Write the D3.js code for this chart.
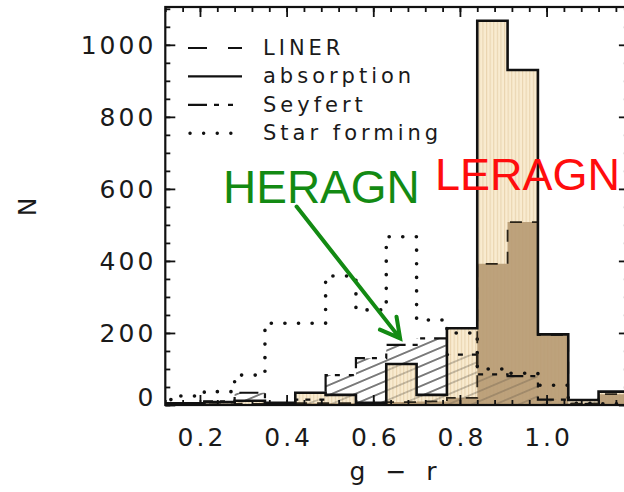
<!DOCTYPE html>
<html>
<head>
<meta charset="utf-8">
<script src="https://cdn.jsdelivr.net/npm/d3@7"></script>
<style>
  html, body { margin: 0; padding: 0; background: #fff; }
  svg { display: block; }
  .tick text { font-family: "DejaVu Sans", sans-serif; }
</style>
</head>
<body>
<svg id="chart" width="624" height="492"></svg>
<script>
// g - r colour histograms of the four spectral classes (bin width 0.07)
const binEdges    = [0.07, 0.14, 0.21, 0.28, 0.35, 0.42, 0.49, 0.56, 0.63, 0.70, 0.77, 0.84, 0.91, 0.98, 1.05, 1.12, 1.19];
const absorption  = [5, 5, 8, 12, 6, 34, 28, 6, 114, 28, 213, 1067, 930, 196, 14, 37];
const liner       = [0, 0, 2, 3, 2, 5, 5, 5, 8, 10, 20, 392, 508, 194, 4, 30];
const seyfert     = [0, 3, 10, 34, 5, 15, 83, 130, 167, 185, 140, 85, 80, 15, 3, 0];
const starForming = [15, 25, 37, 83, 227, 227, 358, 264, 467, 236, 200, 100, 88, 55, 5, 3];

const xTicks = [0.2, 0.4, 0.6, 0.8, 1.0];
const xTickLabels = ["0.2", "0.4", "0.6", "0.8", "1.0"];
const yTicks = [0, 200, 400, 600, 800, 1000];
const yTickLabels = ["0", "200", "400", "600", "800", "1000"];

const legendNames = ["LINER", "absorption", "Seyfert", "Star forming"];
const legendDash  = ["19,21", null, "19,7,5,9,5,9", "0.1,13.5"];

const svg = d3.select("#chart");
const plot = { left: 165.3, right: 628.9, top: 7, bottom: 405 };

const x = d3.scaleLinear().domain([0.12, 1.19]).range([plot.left, plot.right]);
const y = d3.scaleLinear().domain([0, 1105]).range([plot.bottom, plot.top]);

const defs = svg.append("defs");
defs.append("clipPath").attr("id", "plotClip")
  .append("rect")
  .attr("x", plot.left).attr("y", plot.top)
  .attr("width", plot.right - plot.left).attr("height", plot.bottom - plot.top);

// pale tan fill with fine vertical rules for the absorption class
const tan = defs.append("pattern").attr("id", "tanRule")
  .attr("patternUnits", "userSpaceOnUse").attr("width", 3.6).attr("height", 10);
tan.append("rect").attr("width", 3.6).attr("height", 10).attr("fill", "#f8e8c8");
tan.append("line").attr("x1", 0.6).attr("x2", 0.6).attr("y1", 0).attr("y2", 10)
  .attr("stroke", "#e3c99d").attr("stroke-width", 1);

// diagonal hatching for the Seyfert class
const hatch = defs.append("pattern").attr("id", "hatch")
  .attr("patternUnits", "userSpaceOnUse").attr("width", 12).attr("height", 9.2)
  .attr("patternTransform", "rotate(-23)");
hatch.append("line").attr("x1", 0).attr("x2", 12).attr("y1", 4.6).attr("y2", 4.6)
  .attr("stroke", "#2a2a2a").attr("stroke-width", 1);

function stepLine(vals) {
  let d = `M${x(binEdges[0])},${y(vals[0])}`;
  vals.forEach((v, i) => {
    if (i > 0) d += `V${y(v)}`;
    d += `H${x(binEdges[i + 1])}`;
  });
  return d;
}
function stepArea(vals) {
  let d = `M${x(binEdges[0])},${y(0)}`;
  vals.forEach((v, i) => { d += `V${y(v)}H${x(binEdges[i + 1])}`; });
  return d + `V${y(0)}Z`;
}

const g = svg.append("g").attr("clip-path", "url(#plotClip)");

// fills
g.append("path").attr("d", stepArea(seyfert)).attr("fill", "url(#hatch)");
g.append("path").attr("d", stepArea(absorption)).attr("fill", "url(#tanRule)").attr("opacity", 0.85);
g.append("path").attr("d", stepArea(liner)).attr("fill", "#b79b74").attr("opacity", 0.92);
g.append("path").attr("d", stepArea(seyfert)).attr("fill", "url(#hatch)").attr("opacity", 0.35);

// outlines
g.append("path").attr("d", stepLine(starForming)).attr("fill", "none")
  .attr("stroke", "#111").attr("stroke-width", 3.6).attr("stroke-linecap", "round")
  .attr("stroke-dasharray", "0.1,13.5");
g.append("path").attr("d", stepLine(seyfert)).attr("fill", "none")
  .attr("stroke", "#111").attr("stroke-width", 2.2).attr("stroke-dasharray", "19,7,5,9,5,9");
g.append("path").attr("d", stepLine(liner)).attr("fill", "none")
  .attr("stroke", "#2b2418").attr("stroke-width", 1.8).attr("stroke-dasharray", "12,10");
g.append("path").attr("d", stepLine(absorption)).attr("fill", "none")
  .attr("stroke", "#111").attr("stroke-width", 2.6).attr("stroke-linejoin", "miter");

// axes with inward ticks on all four sides
const xMinor = d3.range(0.12, 1.19, 0.04);
const yMinor = d3.range(0, 1105, 50);
const tickFont = { size: 25, ls: 3 };

function styleAxis(sel) {
  sel.select(".domain").remove();
  sel.selectAll(".tick line").attr("stroke", "#111").attr("stroke-width", 1.8);
}

svg.append("g").attr("transform", `translate(0,${plot.bottom})`)
  .call(d3.axisBottom(x).tickValues(xMinor).tickSize(-5).tickFormat("")).call(styleAxis);
svg.append("g").attr("transform", `translate(0,${plot.top})`)
  .call(d3.axisTop(x).tickValues(xMinor).tickSize(-5).tickFormat("")).call(styleAxis);
svg.append("g").attr("transform", `translate(0,${plot.top})`)
  .call(d3.axisTop(x).tickValues(xTicks).tickSize(-10).tickFormat("")).call(styleAxis);
svg.append("g").attr("transform", `translate(${plot.left},0)`)
  .call(d3.axisLeft(y).tickValues(yMinor).tickSize(-5).tickFormat("")).call(styleAxis);
svg.append("g").attr("transform", `translate(${plot.right},0)`)
  .call(d3.axisRight(y).tickValues(yMinor).tickSize(-5).tickFormat("")).call(styleAxis);
svg.append("g").attr("transform", `translate(${plot.right},0)`)
  .call(d3.axisRight(y).tickValues(yTicks).tickSize(-10).tickFormat("")).call(styleAxis);

const xAxis = svg.append("g").attr("transform", `translate(0,${plot.bottom})`)
  .call(d3.axisBottom(x).tickValues(xTicks).tickSize(-10).tickPadding(23)
    .tickFormat((d, i) => xTickLabels[i]))
  .call(styleAxis);
xAxis.selectAll(".tick text")
  .attr("font-size", tickFont.size).attr("letter-spacing", tickFont.ls)
  .attr("dx", tickFont.ls / 2).attr("fill", "#1a1a1a");

const yAxis = svg.append("g").attr("transform", `translate(${plot.left},0)`)
  .call(d3.axisLeft(y).tickValues(yTicks).tickSize(-10).tickPadding(12)
    .tickFormat((d, i) => yTickLabels[i]))
  .call(styleAxis);
yAxis.selectAll(".tick text")
  .attr("font-size", tickFont.size).attr("letter-spacing", tickFont.ls)
  .attr("dx", tickFont.ls).attr("fill", "#1a1a1a")
  .attr("dy", d => d === 0 ? "0.0em" : "0.36em");

// frame
svg.append("rect")
  .attr("x", plot.left).attr("y", plot.top)
  .attr("width", plot.right - plot.left).attr("height", plot.bottom - plot.top)
  .attr("fill", "none").attr("stroke", "#111").attr("stroke-width", 2.2);

// axis titles
svg.append("text")
  .attr("x", (plot.left + plot.right) / 2 - 1).attr("y", 480)
  .attr("text-anchor", "middle")
  .attr("font-family", "DejaVu Sans, sans-serif").attr("font-size", 25)
  .attr("letter-spacing", 6).attr("fill", "#1a1a1a")
  .text("g \u2212 r");
svg.append("text")
  .attr("transform", "translate(36,207) rotate(-90)")
  .attr("text-anchor", "middle")
  .attr("font-family", "DejaVu Sans, sans-serif").attr("font-size", 25)
  .attr("fill", "#1a1a1a")
  .text("N");

// legend
const legend = svg.append("g");
legendNames.forEach((name, i) => {
  const base = 55 + i * 28.4;
  legend.append("line")
    .attr("x1", i === 3 ? 190 : 188).attr("x2", 242)
    .attr("y1", base - 7).attr("y2", base - 7)
    .attr("stroke", "#111")
    .attr("stroke-width", i === 3 ? 3.4 : 2.2)
    .attr("stroke-linecap", i === 3 ? "round" : "butt")
    .attr("stroke-dasharray", legendDash[i]);
  legend.append("text")
    .attr("x", 263).attr("y", base)
    .attr("font-family", "DejaVu Sans, sans-serif").attr("font-size", 21)
    .attr("letter-spacing", 4).attr("fill", "#1a1a1a")
    .text(name);
});

// class annotations
svg.append("text")
  .attr("x", 223).attr("y", 202.5)
  .attr("font-family", "Liberation Sans, Arial, sans-serif").attr("font-size", 46)
  .attr("fill", "#138a13").text("HERAGN");
svg.append("text")
  .attr("x", 435).attr("y", 190)
  .attr("font-family", "Liberation Sans, Arial, sans-serif").attr("font-size", 45)
  .attr("fill", "#ff0d0d").text("LERAGN");

// arrow pointing at the Seyfert peak
const arrowStart = { gr: 0.423, n: 551 };
const arrowTip = { gr: 0.662, n: 185 };
const x0 = x(arrowStart.gr), y0 = y(arrowStart.n);
const x1 = x(arrowTip.gr), y1 = y(arrowTip.n);
const ang = Math.atan2(y1 - y0, x1 - x0);
const headLen = 22, headSpread = 0.5;
svg.append("path")
  .attr("d", `M${x0},${y0}L${x1},${y1}` +
    `M${x1 - headLen * Math.cos(ang - headSpread)},${y1 - headLen * Math.sin(ang - headSpread)}L${x1},${y1}` +
    `L${x1 - headLen * Math.cos(ang + headSpread)},${y1 - headLen * Math.sin(ang + headSpread)}`)
  .attr("fill", "none").attr("stroke", "#138a13").attr("stroke-width", 4)
  .attr("stroke-linecap", "round").attr("stroke-linejoin", "miter");
</script>
</body>
</html>
